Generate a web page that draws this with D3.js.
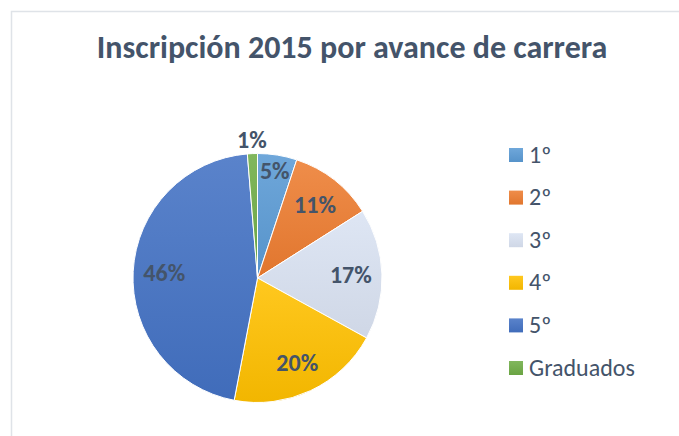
<!DOCTYPE html>
<html>
<head>
<meta charset="utf-8">
<script src="https://cdn.jsdelivr.net/npm/d3@7"></script>
<style>
  body { margin: 0; background: #fff; }
  text { font-family: Calibri, Carlito, "Open Sans", sans-serif; }
</style>
</head>
<body>
<svg id="chart" width="679" height="436"></svg>
<script>
const categories = ['1º', '2º', '3º', '4º', '5º', 'Graduados']
const values = [5.1, 10.9, 17.0, 20.0, 45.7, 1.3]
const colors = ['#5b9bd5', '#ed7d31', '#dae3f3', '#ffc000', '#4472c4', '#70ad47']

const svg = d3.select('#chart')
const width = 679, height = 436
const cx = 257.5, cy = 278, radius = 124.5
const textColor = '#44546a'

// frame of the chart area
svg.append('path')
.attr('d', `M11.5,${height} V11.5 H${width}`)
.attr('fill', 'none')
.attr('stroke', '#dfe3e8')
.attr('stroke-width', 1.5)

// office-like vertical gradients
const defs = svg.append('defs')
colors.forEach((c, i) => {
  const g = defs.append('linearGradient')
  .attr('id', 'grad' + i)
  .attr('x1', 0).attr('y1', 0).attr('x2', 0).attr('y2', 1)
  g.append('stop').attr('offset', '0%').attr('stop-color', d3.interpolateRgb(c, '#fff')(0.12))
  g.append('stop').attr('offset', '100%').attr('stop-color', d3.color(c).darker(0.15))
})

svg.append('text')
.attr('x', 352)
.attr('y', 58)
.attr('text-anchor', 'middle')
.attr('fill', textColor)
.attr('font-size', 32)
.attr('font-weight', 600)
.text('Inscripción 2015 por avance de carrera')

const pie = d3.pie().sort(null).value(d => d)
const arcs = pie(values)
const arc = d3.arc().innerRadius(0).outerRadius(radius)

const pieG = svg.append('g')
.attr('class', 'pie')
.attr('transform', `translate(${cx},${cy})`)

pieG.selectAll('path')
.data(arcs)
.enter()
.append('path')
.attr('d', arc)
.attr('fill', (d, i) => `url(#grad${i})`)
.attr('stroke', '#fff')
.attr('stroke-width', 1)

function labelRadius(v) {
  if (v < 3) return radius + 14
  if (v < 8) return radius * 0.87
  return radius * 0.75
}

pieG.selectAll('text')
.data(arcs)
.enter()
.append('text')
.attr('transform', d => {
  const a = (d.startAngle + d.endAngle) / 2
  const r = labelRadius(d.data)
  return `translate(${Math.sin(a) * r},${-Math.cos(a) * r})`
})
.attr('dy', '0.35em')
.attr('text-anchor', 'middle')
.attr('fill', textColor)
.attr('font-size', 24)
.attr('font-weight', 700)
.text(d => Math.round(d.data) + '%')

// legend
const legendY = d3.scalePoint().domain(categories).range([155, 368])
const legend = svg.append('g').attr('class', 'legend')
  .selectAll('g')
  .data(categories)
  .enter()
  .append('g')
  .attr('transform', d => `translate(509,${legendY(d)})`)

legend.append('rect')
.attr('x', 0).attr('y', -7)
.attr('width', 14).attr('height', 14)
.attr('fill', (d, i) => `url(#grad${i})`)

legend.append('text')
.attr('x', 20)
.attr('y', 7.5)
.attr('fill', textColor)
.attr('font-size', 24)
.text(d => d)
</script>
</body>
</html>
